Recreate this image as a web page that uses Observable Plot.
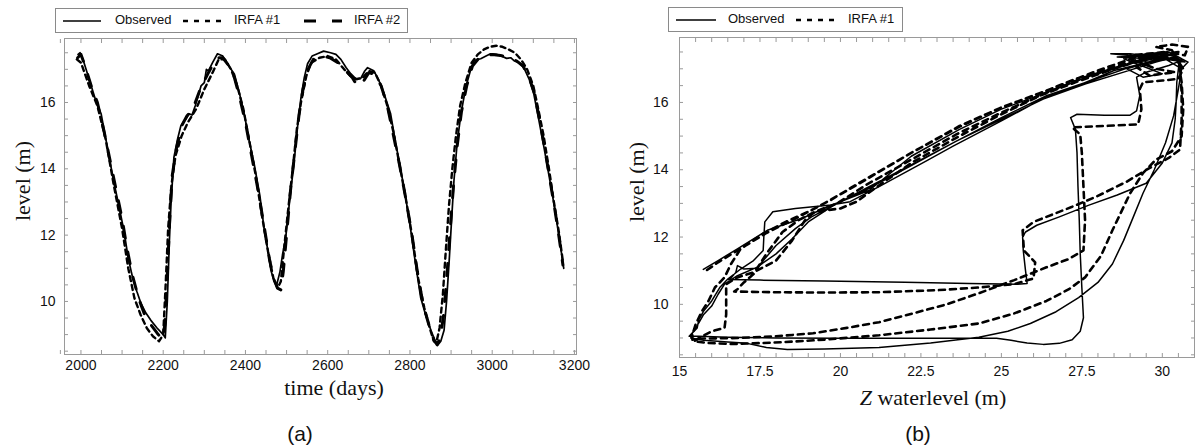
<!DOCTYPE html>
<html><head><meta charset="utf-8">
<script src="https://cdn.jsdelivr.net/npm/d3@7"></script>
<script src="https://cdn.jsdelivr.net/npm/@observablehq/plot@0.6"></script>
<style>
body{margin:0;background:#fff;}
#root{position:relative;width:1195px;height:448px;overflow:hidden;font-family:"Liberation Sans",Arial,sans-serif;color:#111;}
#root svg.plot{position:absolute;top:0;}
.legend{position:absolute;box-sizing:border-box;border:1px solid #8a8a8a;background:#fff;}
.legend span{position:absolute;top:3px;font-size:13px;line-height:16px;white-space:nowrap;}
.legend svg{position:absolute;top:0;left:0;}
.lab{position:absolute;font-family:"Liberation Serif","Times New Roman",serif;font-size:22px;line-height:1;white-space:nowrap;transform:translate(-50%,-50%);}
.cap{position:absolute;font-size:21px;line-height:1;transform:translate(-50%,-50%);}
</style></head><body><div id="root"></div>
<script>
// ---------- data: panel (a) time series (day, level m) ----------
const observedSeries = [
[1993,17.45],[1998,17.5],[2005,17.3],[2020,16.7],[2035,16.1],[2049,15.66],[2065,14.6],[2080,13.6],[2092,12.9],[2105,12.1],
[2115,11.3],[2126,10.7],[2136,10.3],[2146,9.94],[2158,9.65],[2170,9.43],[2185,9.2],[2200,9.0],[2205,8.9],[2210,10.0],
[2215,11.8],[2219,12.95],[2226,14.34],[2235,14.9],[2243,15.3],[2255,15.5],[2263,15.66],[2270,15.62],[2278,15.9],[2292,16.5],
[2300,16.6],[2305,17.0],[2310,16.95],[2320,17.2],[2332,17.47],[2345,17.4],[2355,17.2],[2365,17.0],[2373,16.86],[2385,16.3],
[2397,15.66],[2410,14.8],[2421,14.16],[2435,13.2],[2446,12.14],[2455,11.5],[2462,10.93],[2470,10.6],[2476,10.5],[2484,10.9],
[2490,11.4],[2498,11.93],[2508,13.1],[2518,14.16],[2527,15.3],[2535,16.15],[2543,16.75],[2551,17.17],[2562,17.4],[2575,17.47],
[2590,17.55],[2607,17.5],[2620,17.45],[2632,17.3],[2645,17.05],[2656,16.87],[2668,16.72],[2680,16.72],[2690,16.95],[2697,17.05],
[2712,16.96],[2725,16.65],[2737,16.27],[2753,15.66],[2765,14.8],[2778,13.95],[2790,13.1],[2802,12.14],[2814,11.1],[2826,10.12],
[2838,9.6],[2851,9.13],[2860,8.85],[2867,8.67],[2875,8.8],[2883,9.13],[2889,10.0],[2895,11.14],[2901,12.4],[2907,13.64],
[2915,14.8],[2924,15.66],[2932,16.2],[2940,16.65],[2948,17.0],[2956,17.26],[2965,17.3],[2972,17.32],[2985,17.4],[2996,17.47],
[3010,17.45],[3021,17.41],[3035,17.33],[3045,17.35],[3053,17.26],[3065,17.2],[3077,17.05],[3090,16.7],[3101,16.27],[3113,15.5],
[3126,14.64],[3138,13.8],[3150,12.95],[3162,12.0],[3174,11.0]
];
const irfa1Series = [
[1990,17.3],[2000,17.2],[2020,16.5],[2040,15.9],[2060,14.9],[2080,13.5],[2100,12.2],[2115,11.0],[2130,10.1],[2145,9.6],
[2160,9.2],[2175,8.95],[2190,8.8],[2200,9.0],[2206,10.5],[2212,12.2],[2220,13.5],[2230,14.4],[2245,15.0],[2260,15.4],
[2280,15.8],[2300,16.4],[2320,16.9],[2335,17.3],[2350,17.3],[2365,17.0],[2380,16.5],[2395,15.8],[2410,14.8],[2425,13.8],
[2440,12.6],[2455,11.5],[2468,10.7],[2478,10.4],[2486,10.6],[2494,11.6],[2505,12.9],[2515,14.0],[2525,15.2],[2535,16.0],
[2548,16.8],[2560,17.2],[2580,17.35],[2600,17.4],[2620,17.3],[2640,17.0],[2655,16.8],[2670,16.7],[2685,16.75],[2700,16.95],
[2715,16.9],[2730,16.5],[2745,15.9],[2760,15.1],[2775,14.1],[2790,13.1],[2805,12.0],[2820,10.7],[2835,9.8],[2848,9.2],
[2858,8.8],[2864,8.75],[2872,9.2],[2880,10.2],[2887,11.5],[2895,12.9],[2903,14.0],[2912,15.0],[2922,15.9],[2935,16.6],
[2950,17.2],[2965,17.45],[2980,17.6],[2995,17.68],[3010,17.71],[3025,17.68],[3040,17.6],[3055,17.5],[3070,17.3],[3085,17.0],
[3100,16.5],[3112,15.8],[3125,15.0],[3138,14.0],[3150,13.0],[3162,12.1],[3172,11.2]
];
const irfa2Series = [
[1992,17.35],[2000,17.45],[2010,17.1],[2025,16.5],[2040,16.0],[2055,15.2],[2070,14.3],[2085,13.4],[2100,12.5],[2112,11.6],
[2125,10.8],[2140,10.1],[2155,9.6],[2170,9.3],[2185,9.05],[2198,8.85],[2204,9.3],[2210,10.8],[2216,12.5],[2222,13.8],
[2232,14.6],[2245,15.3],[2258,15.6],[2272,15.8],[2290,16.4],[2310,16.9],[2330,17.35],[2345,17.35],[2360,17.1],[2372,16.8],
[2385,16.2],[2400,15.4],[2415,14.4],[2430,13.4],[2445,12.3],[2458,11.3],[2468,10.7],[2478,10.4],[2486,10.35],[2492,10.9],
[2500,12.0],[2510,13.4],[2520,14.5],[2530,15.6],[2540,16.4],[2552,17.0],[2565,17.3],[2585,17.4],[2605,17.35],[2625,17.2],
[2645,16.95],[2660,16.75],[2672,16.5],[2685,16.6],[2700,16.9],[2715,16.85],[2730,16.5],[2745,15.9],[2760,15.0],[2775,14.1],
[2790,13.1],[2805,12.0],[2818,10.9],[2832,9.9],[2846,9.3],[2858,8.85],[2866,8.7],[2874,8.9],[2882,9.6],[2890,10.8],
[2898,12.2],[2906,13.5],[2915,14.7],[2925,15.7],[2938,16.5],[2952,17.1],[2965,17.3],[2980,17.4],[3000,17.45],[3020,17.42],
[3040,17.35],[3060,17.25],[3075,17.1],[3090,16.75],[3102,16.3],[3115,15.5],[3128,14.6],[3140,13.7],[3152,12.8],[3163,11.9],[3172,11.1]
];

// ---------- data: panel (b) phase plot (Z waterlevel m, level m), in time order ----------
const observedLoop = [
[30.4,17.45],[29.6,17.2],[28.5,16.95],[27.5,16.55],[26.3,16.12],[25,15.45],[23.5,14.7],[22.7,14.28],[21.2,13.5],[20.3,13.05],
[19.7,12.95],[18.6,12.85],[17.9,12.75],[17.65,12.45],[17.62,12.0],[17.6,11.6],[17.3,11.3],[16.9,11.05],[16.5,10.75],[16.25,10.5],
[16.0,10.1],[15.75,9.8],[15.6,9.55],[15.55,9.3],[15.35,9.1],[15.3,9.05],
[15.6,9.05],[16.5,9.02],[18,9.0],[20,8.99],[22.5,8.99],[24.85,8.99],[25.3,8.93],[25.8,8.85],[26.3,8.81],[26.8,8.84],
[27.2,8.95],[27.45,9.2],[27.55,9.6],[27.5,10.5],[27.45,11.5],[27.42,12.5],[27.38,13.5],[27.35,14.5],[27.3,15.2],[27.15,15.55],
[27.35,15.65],[28.2,15.62],[29.0,15.62],[29.2,15.75],[29.3,16.2],[29.2,16.75],[29.5,16.9],[30.2,17.1],[30.6,17.25],[29.0,17.45],
[28.4,17.45],[29.5,17.35],[30.3,17.4],[30.7,17.2],
[30.0,17.3],[29.0,17.05],[27.8,16.65],[26.4,16.2],[25,15.55],[23.5,14.8],[22,14.05],[20.8,13.45],[19.8,12.95],[19.1,12.6],
[18.6,12.25],[18.0,11.75],[17.4,11.07],[17.0,11.05],[16.8,11.15],[16.75,10.95],[16.6,10.78],[16.5,10.74],
[17.5,10.72],[19.5,10.69],[22,10.66],[24,10.62],[25.5,10.6],[25.8,10.62],[25.75,11.0],[25.68,11.6],[25.66,12.0],[25.75,12.15],
[26.1,12.35],[26.8,12.6],[27.7,12.94],[28.6,13.25],[29.5,13.6],[30.0,14.2],[30.3,14.8],[30.4,15.5],[30.43,16.0],[30.45,16.6],
[30.5,17.0],[30.6,17.3],[30.2,17.5],[29.5,17.45],[28.8,17.3],[29.6,17.0],[30.0,16.85],[29.4,16.75],[28.9,17.0],[29.8,17.25],[30.4,17.35],
[29.8,17.2],[28.8,16.9],[27.6,16.55],[26.3,16.1],[25.0,15.5],[23.6,14.85],[22.2,14.12],[20.8,13.4],[19.8,12.95],[19.0,12.45],
[18.5,11.95],[18.0,11.5],[17.4,11.1],[16.8,10.85],[16.4,10.6],[16.2,10.3],[16.0,9.95],[15.75,9.7],[15.6,9.45],[15.4,9.15],[15.35,9.0],
[15.75,8.93],[16.5,8.88],[17.1,8.84],[17.7,8.72],[18.35,8.66],[19.5,8.67],[21.2,8.72],[22.8,8.85],[24.3,9.02],[25.2,9.2],
[25.9,9.43],[26.7,9.78],[27.4,10.2],[28.0,10.65],[28.45,11.2],[28.8,11.9],[29.1,12.6],[29.4,13.3],[29.75,14.0],[30.1,14.8],
[30.35,15.6],[30.5,16.4],[30.6,17.0],[30.4,17.3],[29.6,17.4],[28.6,17.35],[29.6,17.3],[30.3,17.45],[30.8,17.2],[30.6,17.0],
[30.0,17.35],[29.0,17.15],[27.8,16.8],[26.4,16.3],[25.0,15.8],[23.7,15.2],[22.2,14.4],[20.9,13.39],[19.6,12.9],[18.8,12.55],
[17.73,12.2],[16.8,11.65],[16.2,11.3],[15.74,11.04]
];
const irfa1Loop = [
[30.5,17.5],[29.5,17.35],[28.5,17.05],[27.3,16.7],[26.4,16.35],[25.0,15.85],[23.7,15.3],[22.2,14.5],[20.6,13.62],[19.7,13.1],
[19.0,12.75],[18.3,12.45],[17.6,12.1],[16.9,11.65],[16.6,11.2],[16.4,10.8],[16.1,10.5],[15.9,10.1],[15.7,9.8],[15.5,9.4],[15.4,9.1],[15.4,8.95],
[15.55,8.98],[16.8,9.0],[18.0,9.05],[19.15,9.14],[20.2,9.3],[21.2,9.47],[22.25,9.73],[23.3,10.0],[24.3,10.33],[25.4,10.72],
[26.4,11.1],[27.1,11.35],[27.55,11.6],[27.6,12.5],[27.55,13.5],[27.5,14.5],[27.45,15.05],[27.2,15.26],[28.2,15.3],[29.25,15.35],
[29.35,15.8],[29.3,16.4],[29.4,16.6],[30.0,16.65],[30.5,16.7],[30.65,17.0],[30.4,17.35],[29.6,17.2],[29.0,17.4],[30.1,17.5],
[29.8,17.4],[28.8,17.1],[27.6,16.75],[26.3,16.25],[25.0,15.7],[23.6,15.05],[22.2,14.3],[20.8,13.55],[19.9,13.0],[19.2,12.75],
[18.7,12.5],[18.2,12.15],[17.7,11.5],[17.3,10.9],[17.0,10.65],[16.8,10.45],[16.7,10.38],
[18.0,10.36],[19.5,10.35],[21.2,10.36],[23.0,10.42],[24.3,10.5],[25.4,10.6],[26.0,10.77],[26.05,11.25],[25.7,11.6],[25.66,12.2],
[26.0,12.45],[26.4,12.6],[27.2,12.9],[27.95,13.2],[28.9,13.65],[29.6,14.05],[30.2,14.35],[30.55,14.6],[30.6,15.5],[30.6,16.3],
[30.55,17.0],[30.5,17.3],[29.8,17.4],[29.0,17.3],[29.8,17.0],[30.4,16.9],[29.6,16.8],[29.2,17.05],[30.0,17.35],
[29.5,17.3],[28.5,17.0],[27.3,16.6],[26.2,16.2],[25.0,15.65],[23.6,14.95],[22.2,14.2],[21.0,13.4],[20.5,13.05],[20.0,12.85],
[19.2,12.75],[18.9,12.5],[18.5,11.9],[18.0,11.3],[17.3,10.95],[16.8,10.8],[16.45,10.6],[16.45,10.1],[16.45,9.7],[16.4,9.3],
[16.0,9.2],[15.6,9.0],[15.45,8.9],
[15.9,8.85],[16.6,8.82],[17.3,8.84],[18.3,8.88],[19.5,8.95],[21.2,9.08],[22.8,9.25],[24.3,9.43],[25.4,9.73],[26.4,10.1],
[27.1,10.45],[27.6,10.8],[28.1,11.45],[28.45,12.2],[28.75,12.8],[29.0,13.3],[29.4,13.9],[29.8,14.3],[30.3,14.55],[30.6,15.0],
[30.65,15.8],[30.6,16.6],[30.5,17.2],[30.3,17.55],[29.8,17.65],[30.3,17.72],[30.8,17.65],[30.7,17.4],
[30.2,17.5],[29.2,17.35],[28.0,16.95],[26.4,16.35],[25.0,15.85],[23.7,15.28],[22.2,14.5],[20.6,13.6],[19.5,13.0],[18.6,12.55],
[17.7,12.12],[16.8,11.6],[16.2,11.25],[15.75,10.95]
];

// ---------- axes ----------
const xTicksA = [2000, 2200, 2400, 2600, 2800, 3000, 3200];
const xMinorA = d3.range(1950, 3201, 50);
const yTicks = [10, 12, 14, 16];
const yMinor = d3.range(8.5, 17.91, 0.5);
const xTicksB = [15, 17.5, 20, 22.5, 25, 27.5, 30];
const xTickLabelsB = ["15", "17.5", "20", "22.5", "25", "27.5", "30"];
const xMinorB = d3.range(15, 31.01, 0.5);

const seriesNames = ["Observed", "IRFA #1", "IRFA #2"];

const toTS = arr => arr.map(([t, level]) => ({t, level}));
const toLoop = arr => arr.map(([z, level]) => ({z, level}));

const frameColor = "#9a9a9a";
const fontStyle = {fontFamily: "'Liberation Sans', Arial, sans-serif", fontSize: "14px", color: "#111", background: "transparent", overflow: "visible"};

function minorAxes(xm, ym) {
  return [
    Plot.axisX(xm, {anchor: "bottom", tickSize: -4, stroke: frameColor, fill: "none", label: null}),
    Plot.axisX(xm, {anchor: "top", tickSize: -4, stroke: frameColor, fill: "none", label: null}),
    Plot.axisY(ym, {anchor: "left", tickSize: -4, stroke: frameColor, fill: "none", label: null}),
    Plot.axisY(ym, {anchor: "right", tickSize: -4, stroke: frameColor, fill: "none", label: null})
  ];
}

const plotA = Plot.plot({
  width: 600, height: 448,
  marginLeft: 64, marginRight: 24, marginTop: 38, marginBottom: 94,
  x: {domain: [1960, 3205]},
  y: {domain: [8.4, 17.93]},
  style: fontStyle,
  marks: [
    Plot.frame({stroke: frameColor}),
    ...minorAxes(xMinorA, yMinor),
    Plot.axisX(xTicksA, {anchor: "bottom", tickSize: 0, tickPadding: 6, label: null, tickFormat: d => String(d)}),
    Plot.axisY(yTicks, {anchor: "left", tickSize: 0, tickPadding: 9, label: null}),
    Plot.line(toTS(irfa2Series), {x: "t", y: "level", stroke: "#000", strokeWidth: 3, strokeDasharray: "12,14"}),
    Plot.line(toTS(irfa1Series), {x: "t", y: "level", stroke: "#000", strokeWidth: 2.4, strokeDasharray: "5,4"}),
    Plot.line(toTS(observedSeries), {x: "t", y: "level", stroke: "#000", strokeWidth: 1.7})
  ]
});
plotA.classList.add("plot");
plotA.style.left = "0px";

const plotB = Plot.plot({
  width: 595, height: 448,
  marginLeft: 79, marginRight: 1, marginTop: 37, marginBottom: 91,
  x: {domain: [15, 31]},
  y: {domain: [8.42, 17.93]},
  style: fontStyle,
  marks: [
    Plot.frame({stroke: frameColor}),
    ...minorAxes(xMinorB, yMinor),
    Plot.axisX(xTicksB, {anchor: "bottom", tickSize: 0, tickPadding: 9, label: null, tickFormat: (d, i) => xTickLabelsB[i]}),
    Plot.axisY(yTicks, {anchor: "left", tickSize: 0, tickPadding: 11, label: null}),
    Plot.line(toLoop(irfa1Loop), {x: "z", y: "level", stroke: "#000", strokeWidth: 2.6, strokeDasharray: "6,5"}),
    Plot.line(toLoop(observedLoop), {x: "z", y: "level", stroke: "#000", strokeWidth: 1.5})
  ]
});
plotB.classList.add("plot");
plotB.style.left = "600px";

const root = document.getElementById("root");
root.append(plotA, plotB);

// ---------- legends ----------
function legend(left, top, width, items) {
  const box = document.createElement("div");
  box.className = "legend";
  Object.assign(box.style, {left: left + "px", top: top + "px", width: width + "px", height: "25px"});
  const svgNS = "http://www.w3.org/2000/svg";
  const svg = document.createElementNS(svgNS, "svg");
  svg.setAttribute("width", width); svg.setAttribute("height", 25);
  box.appendChild(svg);
  for (const it of items) {
    const ln = document.createElementNS(svgNS, "line");
    ln.setAttribute("x1", it.x1); ln.setAttribute("x2", it.x2);
    ln.setAttribute("y1", 12); ln.setAttribute("y2", 12);
    ln.setAttribute("stroke", "#000");
    ln.setAttribute("stroke-width", it.w);
    if (it.dash) ln.setAttribute("stroke-dasharray", it.dash);
    svg.appendChild(ln);
    const sp = document.createElement("span");
    sp.textContent = it.name;
    sp.style.left = it.tx + "px";
    box.appendChild(sp);
  }
  root.appendChild(box);
}
legend(55, 8, 353, [
  {name: seriesNames[0], x1: 7, x2: 45, w: 1.3, tx: 59},
  {name: seriesNames[1], x1: 127, x2: 169, w: 2.4, dash: "5,6", tx: 178},
  {name: seriesNames[2], x1: 248, x2: 286, w: 3, dash: "12,16", tx: 298}
]);
legend(668, 7, 235, [
  {name: seriesNames[0], x1: 7, x2: 47, w: 1.3, tx: 59},
  {name: seriesNames[1], x1: 127, x2: 170, w: 2.4, dash: "5,6", tx: 179}
]);

// ---------- axis titles and captions ----------
function addDiv(cls, html, x, y, rotate) {
  const d = document.createElement("div");
  d.className = cls;
  d.innerHTML = html;
  d.style.left = x + "px"; d.style.top = y + "px";
  if (rotate) d.style.transform = "translate(-50%,-50%) rotate(-90deg)";
  root.appendChild(d);
}
addDiv("lab", "time (days)", 334, 388);
addDiv("lab", "level (m)", 23, 181, true);
addDiv("lab", "level (m)", 637, 182, true);
addDiv("lab", "<i>Z</i> waterlevel (m)", 933, 398);
addDiv("cap", "(a)", 300, 433);
addDiv("cap", "(b)", 918, 433);
</script>
</body></html>
